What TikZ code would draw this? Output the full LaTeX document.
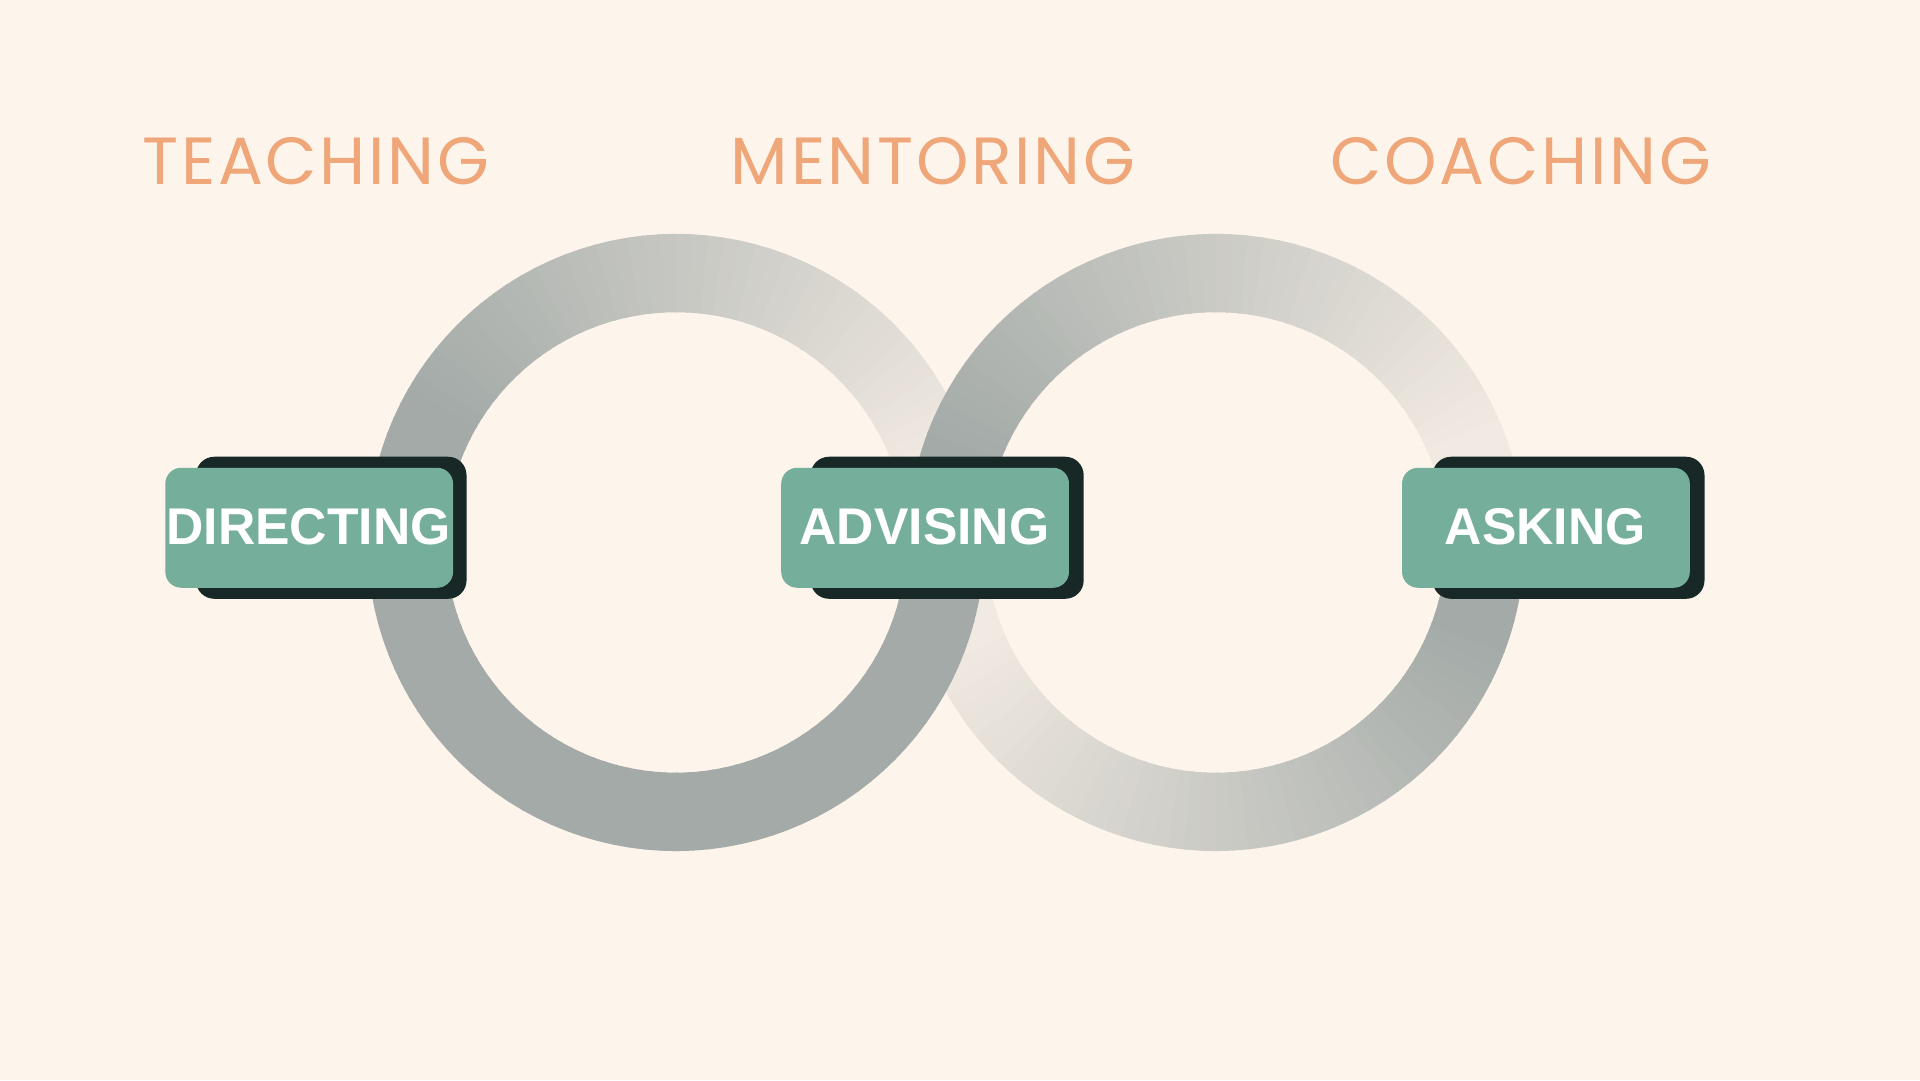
\documentclass[tikz,border=0pt]{standalone}
\usepackage{fontspec}
\setmainfont{Liberation Sans}
\newfontfamily\titlefont[LetterSpace=4]{Poppins}
\definecolor{bg}{HTML}{FDF5EC}
\definecolor{ringdark}{HTML}{A3AAA7}
\definecolor{ringlight}{HTML}{F1EAE2}
\definecolor{teal}{HTML}{75AE9B}
\definecolor{shadow}{HTML}{172826}
\definecolor{orange}{HTML}{EFA679}
\tikzset{
  seg/.style={line width=0.64cm},
  shadowbox/.style={fill=shadow,rounded corners=0.15cm},
  tealbox/.style={fill=teal,rounded corners=0.13cm},
  label/.style={text=white,font=\bfseries\fontsize{12}{14}\selectfont},
  title/.style={text=orange,font=\titlefont\fontsize{15.5}{18}\selectfont}
}
\begin{document}
\begin{tikzpicture}
\fill[bg] (0,0) rectangle (15.68,8.82);
\useasboundingbox (0,0) rectangle (15.68,8.82);
\coordinate (L) at (5.52,4.39);
\coordinate (R) at (9.93,4.39);
% right ring, bottom half
\foreach \a in {180,183,...,357}{
  \pgfmathsetmacro{\Lv}{min(100,max(0,(340-\a)/140*100))}
  \colorlet{cc}{ringlight!\Lv!ringdark}
  \draw[seg,cc] ([shift={(\a:2.2)}]R) arc (\a:\a+3.4:2.2);
}
% left ring full
\foreach \a in {0,3,...,357}{
  \pgfmathsetmacro{\Lv}{min(100,max(0,(150-\a)/135*100))}
  \colorlet{cc}{ringlight!\Lv!ringdark}
  \draw[seg,cc] ([shift={(\a:2.2)}]L) arc (\a:\a+3.4:2.2);
}
% right ring, top half
\foreach \a in {0,3,...,177}{
  \pgfmathsetmacro{\Lv}{min(100,max(0,(160-\a)/140*100))}
  \colorlet{cc}{ringlight!\Lv!ringdark}
  \draw[seg,cc] ([shift={(\a:2.2)}]R) arc (\a:\a+3.4:2.2);
}
% boxes
\fill[shadowbox] (1.60,3.93) rectangle (3.81,5.09);
\fill[tealbox] (1.35,4.02) rectangle (3.70,5.00);
\node[label] (directing) at (2.52,4.52) {DIRECTING};
\fill[shadowbox] (6.62,3.93) rectangle (8.85,5.09);
\fill[tealbox] (6.38,4.02) rectangle (8.73,5.00);
\node[label] (advising) at (7.55,4.52) {ADVISING};
\fill[shadowbox] (11.70,3.93) rectangle (13.92,5.09);
\fill[tealbox] (11.45,4.02) rectangle (13.80,5.00);
\node[label] (asking) at (12.62,4.52) {ASKING};
% titles
\node[title] (teaching) at (2.58,7.50) {TEACHING};
\node[title] (mentoring) at (7.62,7.50) {MENTORING};
\node[title] (coaching) at (12.42,7.50) {COACHING};
\end{tikzpicture}
\end{document}
